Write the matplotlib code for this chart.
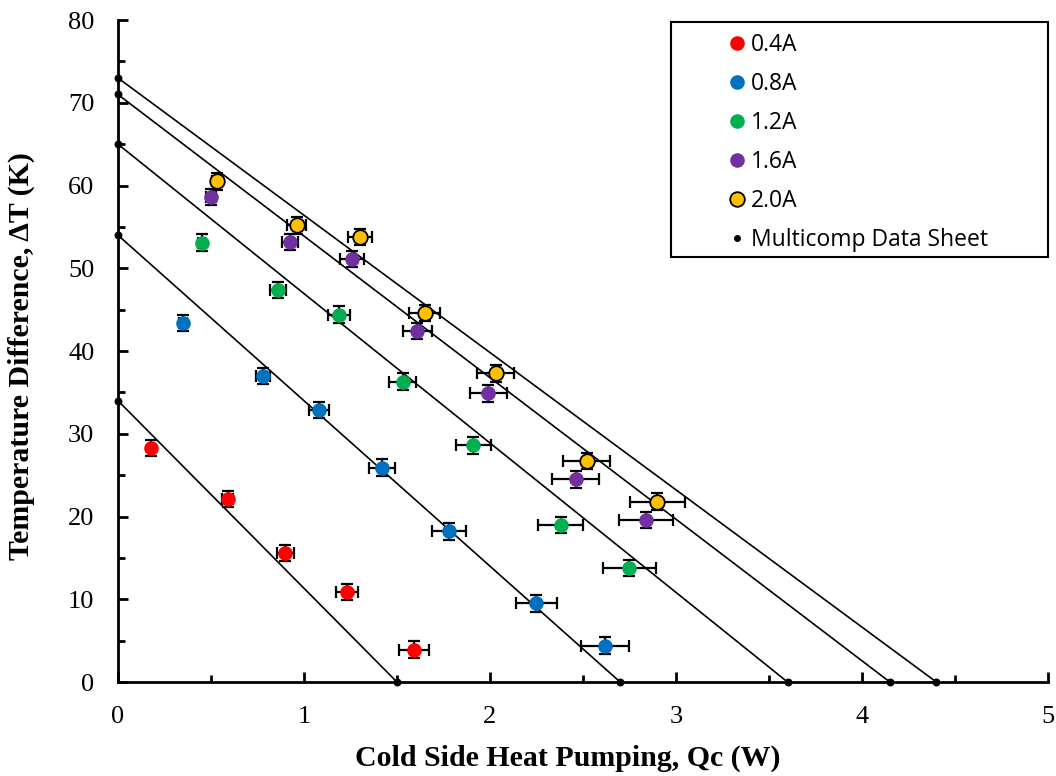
import numpy as np
import matplotlib.pyplot as plt
from matplotlib.ticker import MultipleLocator
from matplotlib.lines import Line2D
from matplotlib.patches import Rectangle

# measured points (Qc in W, dT in K) per drive current
currents = ['0.4A', '0.8A', '1.2A', '1.6A', '2.0A']
colors = ['#ff0000', '#0070c0', '#00b050', '#7030a0', '#ffc000']

qc_04 = [0.18, 0.59, 0.90, 1.23, 1.59]
dt_04 = [28.3, 22.1, 15.6, 10.9, 3.9]
xe_04 = [0.01, 0.03, 0.045, 0.06, 0.08]

qc_08 = [0.35, 0.78, 1.08, 1.42, 1.78, 2.25, 2.62]
dt_08 = [43.4, 37.0, 32.9, 25.9, 18.2, 9.5, 4.4]
xe_08 = [0.02, 0.04, 0.055, 0.07, 0.09, 0.11, 0.13]

qc_12 = [0.45, 0.86, 1.19, 1.53, 1.91, 2.38, 2.75]
dt_12 = [53.1, 47.4, 44.4, 36.3, 28.6, 19.0, 13.8]
xe_12 = [0.02, 0.045, 0.06, 0.075, 0.095, 0.12, 0.14]

qc_16 = [0.50, 0.925, 1.26, 1.61, 1.99, 2.46, 2.84]
dt_16 = [58.6, 53.2, 51.1, 42.4, 34.9, 24.5, 19.6]
xe_16 = [0.025, 0.045, 0.065, 0.08, 0.10, 0.125, 0.145]

qc_20 = [0.53, 0.96, 1.30, 1.65, 2.03, 2.52, 2.90]
dt_20 = [60.5, 55.2, 53.8, 44.6, 37.3, 26.7, 21.8]
xe_20 = [0.025, 0.05, 0.065, 0.083, 0.10, 0.126, 0.147]

ye = 1.0

# Multicomp data sheet: dTmax at Qc=0 and Qcmax at dT=0
dtmax = [34, 54, 65, 71, 73]
qcmax = [1.5, 2.7, 3.6, 4.15, 4.4]

series = [(qc_04, dt_04, xe_04), (qc_08, dt_08, xe_08), (qc_12, dt_12, xe_12),
          (qc_16, dt_16, xe_16), (qc_20, dt_20, xe_20)]

fig = plt.figure(figsize=(10.56, 7.76), dpi=100)
ax = fig.add_axes([0.1117, 0.1211, 0.8807, 0.8531])

for dm, qm in zip(dtmax, qcmax):
    ax.plot([0, qm], [dm, 0], color='black', lw=1.2, zorder=2, clip_on=False)
ax.scatter([0] * 5 + qcmax, dtmax + [0] * 5, s=22, color='black', zorder=5, clip_on=False)

for (x, y, xe), lab, c in zip(series, currents, colors):
    ax.errorbar(x, y, xerr=xe, yerr=ye, fmt='none', ecolor='black', elinewidth=1.6,
                capsize=4.5, capthick=1.6, zorder=3)
    is20 = lab == '2.0A'
    ax.plot(x, y, 'o', ms=10.5, color=c, mec='black' if is20 else c,
            mew=1.3 if is20 else 0, zorder=4)

ax.set_xlim(0, 5)
ax.set_ylim(0, 80)
ax.xaxis.set_major_locator(MultipleLocator(1))
ax.xaxis.set_minor_locator(MultipleLocator(0.5))
ax.yaxis.set_major_locator(MultipleLocator(10))
ax.yaxis.set_minor_locator(MultipleLocator(5))
ax.tick_params(which='both', direction='in', width=2, labelsize=19)
ax.tick_params(which='major', length=7, pad=17)
ax.tick_params(which='minor', length=5)
for lbl in ax.get_xticklabels() + ax.get_yticklabels():
    lbl.set_fontfamily('Liberation Serif')
ax.spines['top'].set_visible(False)
ax.spines['right'].set_visible(False)
ax.spines['left'].set_linewidth(2)
ax.spines['bottom'].set_linewidth(2)

ax.set_xlabel('Cold Side Heat Pumping, Qc (W)', family='Liberation Serif',
              fontweight='bold', fontsize=21.5)
ax.set_ylabel('Temperature Difference, \u0394T (K)', family='Liberation Serif',
              fontweight='bold', fontsize=21.5)
ax.xaxis.set_label_coords(0.484, -0.095)
ax.yaxis.set_label_coords(-0.089, 0.492)

handles = []
for lab, c in zip(currents, colors):
    is20 = lab == '2.0A'
    handles.append(Line2D([], [], ls='none', marker='o', ms=10.5, color=c,
                          mec='black' if is20 else c, mew=1.3 if is20 else 0, label=lab))
handles.append(Line2D([], [], ls='none', marker='o', ms=4, color='black',
                      label='Multicomp Data Sheet'))
leg = ax.legend(handles=handles, loc='center left', bbox_to_anchor=(0.657, 0.815),
                prop={'family': 'Open Sans', 'size': 16.5}, frameon=False,
                borderpad=0, labelspacing=0.66, handletextpad=0.26,
                borderaxespad=0, handlelength=0.7)
ax.add_patch(Rectangle((0.595, 0.642), 0.405, 0.355, transform=ax.transAxes,
                       fill=False, edgecolor='black', lw=1.5, clip_on=False, zorder=6))

fig.savefig('out.png', dpi=100)
